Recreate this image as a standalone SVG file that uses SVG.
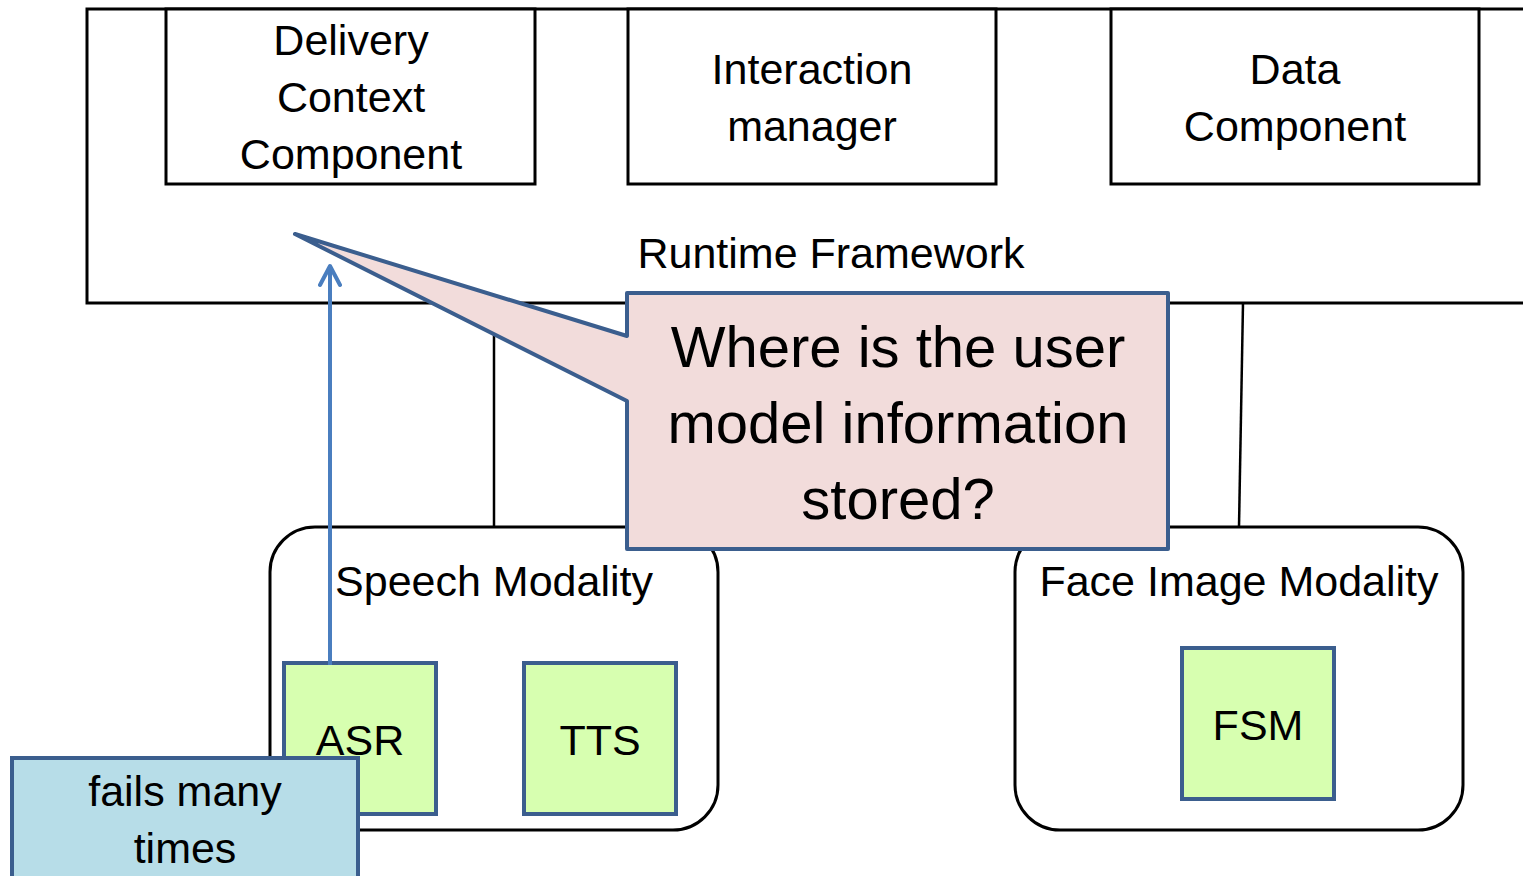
<svg xmlns="http://www.w3.org/2000/svg" width="1523" height="876" viewBox="0 0 1523 876">
  <defs>
    <style>
      .box { fill: #ffffff; stroke: #000000; stroke-width: 3; }
      .mod { fill: #ffffff; stroke: #000000; stroke-width: 3; }
      .comp { fill: #D7FFB0; stroke: #3B5E8E; stroke-width: 4; }
      .link { stroke: #000000; stroke-width: 2.5; fill: none; }
      .t { font-family: "Liberation Sans", Arial, sans-serif; font-size: 43px; fill: #000000; text-anchor: middle; }
      .big { font-size: 58px; }
    </style>
    <!-- open arrowhead, drawn pointing along +x so orient="auto" turns it with the line -->
    <marker id="openArrow" viewBox="-22 -12 26 24" refX="0" refY="0" markerWidth="26" markerHeight="24" markerUnits="userSpaceOnUse" orient="auto">
      <path d="M-19,-10 L0,0 L-19,10" fill="none" stroke="#4A7EBF" stroke-width="4" stroke-linecap="round" stroke-linejoin="round"/>
    </marker>
  </defs>
  <rect width="1523" height="876" fill="#ffffff"/>

  <g id="runtime-framework">
    <rect class="box" x="87" y="9" width="1460" height="294"/>
    <text class="t" x="831" y="268">Runtime Framework</text>
  </g>

  <g id="delivery-context">
    <rect class="box" x="166" y="9" width="369" height="175"/>
    <text class="t" x="351" y="55">Delivery</text>
    <text class="t" x="351" y="112">Context</text>
    <text class="t" x="351" y="169">Component</text>
  </g>

  <g id="interaction-manager">
    <rect class="box" x="628" y="9" width="368" height="175"/>
    <text class="t" x="812" y="84">Interaction</text>
    <text class="t" x="812" y="141">manager</text>
  </g>

  <g id="data-component">
    <rect class="box" x="1111" y="9" width="368" height="175"/>
    <text class="t" x="1295" y="84">Data</text>
    <text class="t" x="1295" y="141">Component</text>
  </g>

  <g id="connectors">
    <line class="link" x1="494" y1="303" x2="494" y2="527"/>
    <line class="link" x1="1243" y1="303" x2="1239" y2="527"/>
  </g>

  <g id="speech-modality">
    <rect class="mod" x="270" y="527" width="448" height="303" rx="45" ry="45"/>
    <text class="t" x="494" y="596">Speech Modality</text>
  </g>

  <g id="face-image-modality">
    <rect class="mod" x="1015" y="527" width="448" height="303" rx="45" ry="45"/>
    <text class="t" x="1239" y="596">Face Image Modality</text>
  </g>

  <g id="asr">
    <rect class="comp" x="284" y="663" width="152" height="151"/>
    <text class="t" x="360" y="755">ASR</text>
  </g>

  <g id="tts">
    <rect class="comp" x="524" y="663" width="152" height="151"/>
    <text class="t" x="600" y="755">TTS</text>
  </g>

  <g id="fsm">
    <rect class="comp" x="1182" y="648" width="152" height="151"/>
    <text class="t" x="1258" y="740">FSM</text>
  </g>

  <g id="question-callout">
    <path d="M627,293 H1168 V549 H627 V401 L295,234 L627,336 Z" fill="#F2DCDB" stroke="#3B5E8E" stroke-width="4" stroke-linejoin="round"/>
    <text class="t big" x="898" y="367">Where is the user</text>
    <text class="t big" x="898" y="443">model information</text>
    <text class="t big" x="898" y="519">stored?</text>
  </g>

  <g id="asr-arrow">
    <line x1="330" y1="665" x2="330" y2="266" stroke="#4A7EBF" stroke-width="4" marker-end="url(#openArrow)"/>
  </g>

  <g id="failure-note">
    <rect x="12" y="758" width="346" height="140" fill="#B7DDE8" stroke="#3B5E8E" stroke-width="4"/>
    <text class="t" x="185" y="806">fails many</text>
    <text class="t" x="185" y="863">times</text>
  </g>
</svg>
